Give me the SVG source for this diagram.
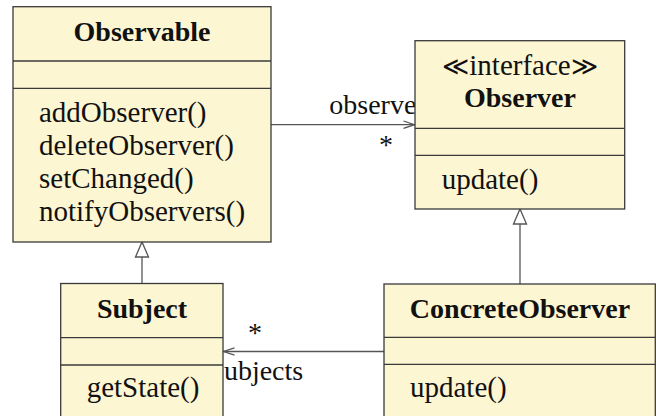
<svg xmlns="http://www.w3.org/2000/svg" width="656" height="416" viewBox="0 0 656 416">
<defs>
<style>
.box{fill:#fdf6d3;stroke:#3a3a3a;stroke-width:1.3}
.sep{stroke:#3a3a3a;stroke-width:1.3;fill:none}
.t{font-family:"Liberation Serif","DejaVu Serif",serif;font-size:29px;fill:#111}
.b{font-weight:bold;font-size:28px}
.c{text-anchor:middle}
.g{font-family:"DejaVu Sans","DejaVu Serif",serif;font-weight:200;font-size:26px}
.lbl{font-family:"Liberation Serif","DejaVu Serif",serif;font-size:28px;fill:#111}
.edge{stroke:#555;stroke-width:1.3;fill:none}
</style>
<marker id="open" markerUnits="userSpaceOnUse" markerWidth="14" markerHeight="12" refX="11" refY="4" orient="auto" overflow="visible">
<path d="M0,0.3 L11,4 L0,7.7" fill="none" stroke="#555" stroke-width="1.3"/>
</marker>
<marker id="tri" markerUnits="userSpaceOnUse" markerWidth="18" markerHeight="14" refX="15" refY="6.5" orient="auto" overflow="visible">
<path d="M0,0 L15,6.5 L0,13 Z" fill="#fff" stroke="#555" stroke-width="1.3"/>
</marker>
</defs>
<rect width="656" height="416" fill="#fff"/>
<g id="connectors">
<line class="edge" x1="142" y1="283.5" x2="142" y2="242" marker-end="url(#tri)"/>
<line class="edge" x1="520" y1="284" x2="520" y2="209" marker-end="url(#tri)"/>
<line class="edge" x1="271" y1="124.7" x2="414.5" y2="124.7" marker-end="url(#open)"/>
<text class="lbl" x="329.3" y="114">observers</text>
<text class="lbl c" x="386" y="154">*</text>
<line class="edge" x1="384" y1="351.5" x2="223.5" y2="351.5" marker-end="url(#open)"/>
<text class="lbl" x="213" y="380">subjects</text>
<text class="lbl c" x="255" y="342">*</text>
</g>
<g id="Observable">
<rect class="box" x="13" y="6.7" width="258" height="235.3"/>
<line class="sep" x1="13" y1="61" x2="271" y2="61"/>
<line class="sep" x1="13" y1="88.3" x2="271" y2="88.3"/>
<text class="t b c" x="142" y="41.3">Observable</text>
<text class="t" x="39" y="122">addObserver()</text>
<text class="t" x="39" y="155">deleteObserver()</text>
<text class="t" x="39" y="188">setChanged()</text>
<text class="t" x="39" y="221">notifyObservers()</text>
</g>
<g id="Observer">
<rect class="box" x="415" y="40.7" width="209.7" height="168.3"/>
<line class="sep" x1="415" y1="128.3" x2="624.7" y2="128.3"/>
<line class="sep" x1="415" y1="155.3" x2="624.7" y2="155.3"/>
<text class="t c" x="520" y="75"><tspan class="g">≪</tspan>interface<tspan class="g">≫</tspan></text>
<text class="t b c" x="520" y="107">Observer</text>
<text class="t" x="441.7" y="189">update()</text>
</g>
<g id="Subject">
<rect class="box" x="60.7" y="283.5" width="162.3" height="140"/>
<line class="sep" x1="60.7" y1="337.7" x2="223" y2="337.7"/>
<line class="sep" x1="60.7" y1="365" x2="223" y2="365"/>
<text class="t b c" x="142" y="318">Subject</text>
<text class="t" x="86.7" y="397">getState()</text>
</g>
<g id="ConcreteObserver">
<rect class="box" x="384" y="284" width="271.3" height="140"/>
<line class="sep" x1="384" y1="337.3" x2="655.3" y2="337.3"/>
<line class="sep" x1="384" y1="364.3" x2="655.3" y2="364.3"/>
<text class="t b c" x="520" y="318.3">ConcreteObserver</text>
<text class="t" x="410" y="397">update()</text>
</g>
</svg>
